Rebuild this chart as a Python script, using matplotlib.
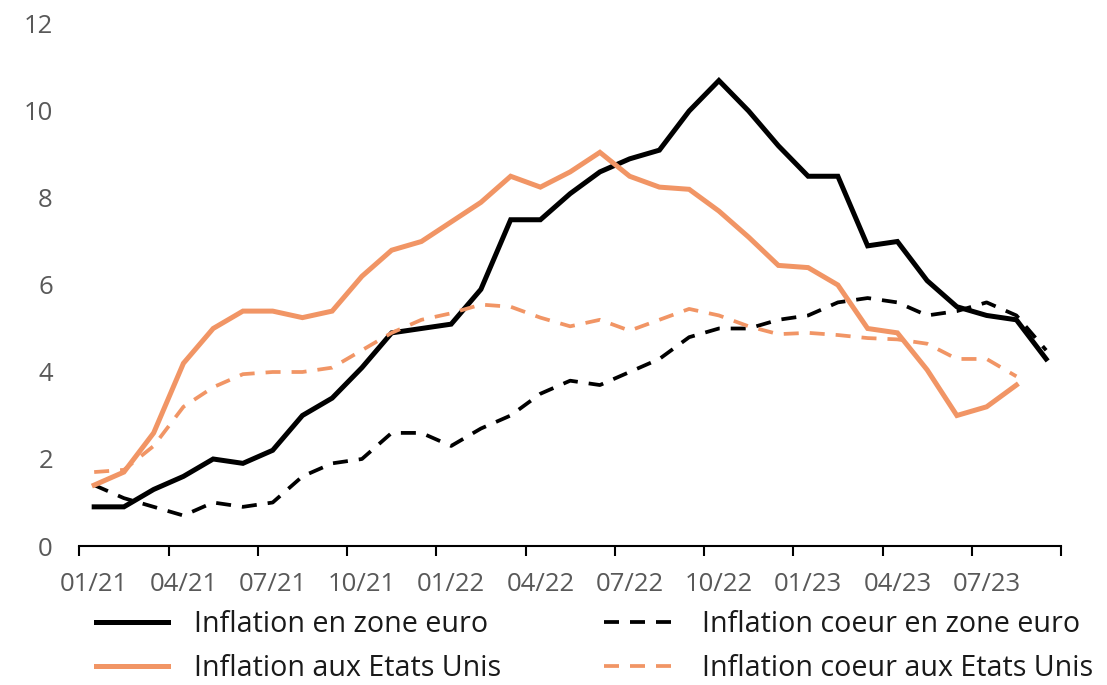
import numpy as np
import matplotlib
matplotlib.use("Agg")
import matplotlib.pyplot as plt
from matplotlib.lines import Line2D

plt.rcParams['font.family'] = ['Open Sans', 'DejaVu Sans']

months = ["01/21", "02/21", "03/21", "04/21", "05/21", "06/21", "07/21", "08/21", "09/21",
          "10/21", "11/21", "12/21", "01/22", "02/22", "03/22", "04/22", "05/22", "06/22",
          "07/22", "08/22", "09/22", "10/22", "11/22", "12/22", "01/23", "02/23", "03/23",
          "04/23", "05/23", "06/23", "07/23", "08/23", "09/23"]

infl_euro = [0.9, 0.9, 1.3, 1.6, 2.0, 1.9, 2.2, 3.0, 3.4, 4.1, 4.9, 5.0, 5.1, 5.9, 7.5, 7.5,
             8.1, 8.6, 8.9, 9.1, 10.0, 10.7, 10.0, 9.2, 8.5, 8.5, 6.9, 7.0, 6.1, 5.5, 5.3, 5.2, 4.3]
core_euro = [1.4, 1.1, 0.9, 0.7, 1.0, 0.9, 1.0, 1.6, 1.9, 2.0, 2.6, 2.6, 2.3, 2.7, 3.0, 3.5,
             3.8, 3.7, 4.0, 4.3, 4.8, 5.0, 5.0, 5.2, 5.3, 5.6, 5.7, 5.6, 5.3, 5.4, 5.6, 5.3, 4.5]
infl_us = [1.4, 1.7, 2.6, 4.2, 5.0, 5.4, 5.4, 5.25, 5.4, 6.2, 6.8, 7.0, 7.45, 7.9, 8.5, 8.25,
           8.6, 9.05, 8.5, 8.25, 8.2, 7.7, 7.1, 6.45, 6.4, 6.0, 5.0, 4.9, 4.05, 3.0, 3.2, 3.7]
core_us = [1.7, 1.75, 2.3, 3.2, 3.65, 3.95, 4.0, 4.0, 4.1, 4.5, 4.9, 5.2, 5.35, 5.55, 5.5, 5.25,
           5.05, 5.2, 4.95, 5.2, 5.45, 5.3, 5.05, 4.87, 4.9, 4.85, 4.78, 4.75, 4.65, 4.3, 4.3, 3.9]

labels = ["Inflation en zone euro", "Inflation coeur en zone euro",
          "Inflation aux Etats Unis", "Inflation coeur aux Etats Unis"]

BLACK = "#000000"
ORANGE = "#F19565"
GRAY = "#595959"

fig = plt.figure(figsize=(11.07, 6.85), dpi=100)
ax = fig.add_axes([79.3 / 1107, 1 - 546 / 685, (1061 - 79.3) / 1107, (546 - 24) / 685])

n = len(months)
x_all = np.arange(n) + 0.5

lw_solid = 3.6
lw_dash = 2.7
dash = (0, (15 * 0.72 / lw_dash, 11 * 0.72 / lw_dash))

ax.plot(x_all[:len(infl_euro)], infl_euro, color=BLACK, lw=lw_solid, solid_joinstyle='miter')
ax.plot(x_all[:len(core_euro)], core_euro, color=BLACK, lw=lw_dash, linestyle=dash)
ax.plot(x_all[:len(infl_us)], infl_us, color=ORANGE, lw=lw_solid, solid_joinstyle='miter')
ax.plot(x_all[:len(core_us)], core_us, color=ORANGE, lw=lw_dash, linestyle=dash)

ax.set_xlim(0, n)
ax.set_ylim(0, 12)
ax.set_yticks(np.arange(0, 13, 2))
ax.set_yticklabels([str(v) for v in range(0, 13, 2)])

# major ticks at category boundaries, labels at category centers every 3 months
ax.set_xticks(np.arange(0, n + 1, 3))
ax.set_xticklabels([])
ax.set_xticks(x_all[::3], minor=True)
ax.set_xticklabels(months[::3], minor=True)

for s in ['top', 'right', 'left']:
    ax.spines[s].set_visible(False)
ax.spines['bottom'].set_linewidth(1.5)
ax.spines['bottom'].set_color('#000000')

ax.tick_params(axis='x', which='major', length=7, width=1.5, color='#000000', direction='out')
ax.tick_params(axis='x', which='minor', length=0, pad=18.5, labelsize=18.5, labelcolor=GRAY)
ax.tick_params(axis='y', length=0, pad=19, labelsize=18.5, labelcolor=GRAY)

handles = [
    Line2D([], [], color=BLACK, lw=lw_solid),
    Line2D([], [], color=ORANGE, lw=lw_solid),
    Line2D([], [], color=BLACK, lw=lw_dash, linestyle=dash),
    Line2D([], [], color=ORANGE, lw=lw_dash, linestyle=dash),
]
leg_labels = [labels[0], labels[2], labels[1], labels[3]]
leg = fig.legend(handles, leg_labels, ncol=2, loc='upper left',
                 bbox_to_anchor=(96 / 1107, 1 - 610 / 685), frameon=False,
                 fontsize=20.6, handlelength=2.52, handletextpad=0.9,
                 columnspacing=3.6, labelspacing=0.52, borderpad=0, borderaxespad=0)
for t in leg.get_texts():
    t.set_color('#1a1a1a')

fig.savefig("out.png", dpi=100)
